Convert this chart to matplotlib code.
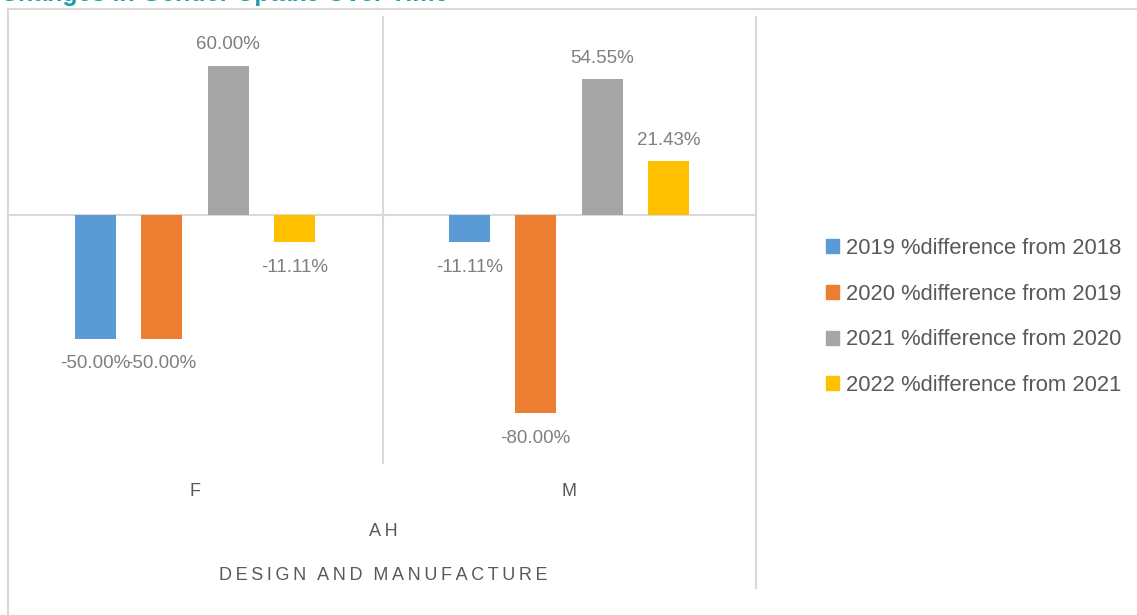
import numpy as np
import matplotlib
matplotlib.use("Agg")
import matplotlib.pyplot as plt
from matplotlib.lines import Line2D
from matplotlib.patches import Rectangle

# data
categories = ["F", "M"]
series_names = [
    "2019 %difference from 2018",
    "2020 %difference from 2019",
    "2021 %difference from 2020",
    "2022 %difference from 2021",
]
values_2019 = [-50.00, -11.11]
values_2020 = [-50.00, -80.00]
values_2021 = [60.00, 54.55]
values_2022 = [-11.11, 21.43]
colors = ["#5B9BD5", "#ED7D31", "#A5A5A5", "#FFC000"]

W, H = 1137, 615
fig = plt.figure(figsize=(W / 100, H / 100), dpi=100)
plt.rcParams["font.family"] = ["Liberation Sans", "DejaVu Sans"]


def fx(px):
    return px / W


def fy(py):
    return 1 - py / H


# plot area in pixels
left, right, top, bottom = 8, 756, 16, 463
ax = fig.add_axes([fx(left), fy(bottom), fx(right - left), fy(top) - fy(bottom)])
ax.set_xlim(-0.5, 1.5)
ax.set_ylim(-100, 80)
for s in ax.spines.values():
    s.set_visible(False)
ax.set_xticks([])
ax.set_yticks([])

all_series = [values_2019, values_2020, values_2021, values_2022]
x = np.arange(len(categories))
pitch = 0.178
width = 0.11
for i, (vals, c) in enumerate(zip(all_series, colors)):
    pos = x + (i - 1.5) * pitch
    ax.bar(pos, vals, width=width, color=c, zorder=3)
    for px_, v in zip(pos, vals):
        if v >= 0:
            ax.annotate(f"{v:.2f}%", (px_, v), xytext=(0, 9), textcoords="offset points",
                        ha="center", va="bottom", fontsize=13.5, color="#7F7F7F")
        else:
            ax.annotate(f"{v:.2f}%", (px_, v), xytext=(0, -12), textcoords="offset points",
                        ha="center", va="top", fontsize=13.5, color="#7F7F7F")

ax.axhline(0, color="#D9D9D9", lw=1.5, zorder=2)

# category axis labels
label_y = -(491 - bottom) / (bottom - top)
for xi, cat in zip(x, categories):
    ax.text(xi, label_y, cat, transform=ax.get_xaxis_transform(), ha="center", va="center",
            fontsize=13, color="#595959")

fig.text(fx(383), fy(532), "\u2009".join("AH"), ha="center", va="center",
         fontsize=13, color="#595959")
fig.text(fx(383), fy(575), "\u2009".join("DESIGN AND MANUFACTURE").replace("\u2009 \u2009", "\u2009\u2009\u2009"),
         ha="center", va="center", fontsize=13, color="#595959")

# separators and borders
line_c = "#D9D9D9"
fig.add_artist(Line2D([fx(383), fx(383)], [fy(17), fy(463)], color=line_c, lw=1.5))
fig.add_artist(Line2D([fx(756), fx(756)], [fy(17), fy(588)], color=line_c, lw=1.5))
fig.add_artist(Line2D([fx(8), fx(8)], [fy(9), 0], color=line_c, lw=1.5))
fig.add_artist(Line2D([fx(8), 1], [fy(9), fy(9)], color=line_c, lw=1.5))

# title (cropped at top, as in the source)
fig.text(fx(0), fy(-6), "Changes in Gender Uptake Over Time", ha="left", va="center",
         fontsize=18, fontweight="bold", color="#1A9EAE")

# legend
handles = [Rectangle((0, 0), 1, 1, color=c) for c in colors]
fig.legend(handles, series_names, loc="center left", bbox_to_anchor=(fx(806), fy(317)),
           frameon=False, fontsize=15.8, labelcolor="#595959", handlelength=0.6,
           handleheight=0.6, handletextpad=0.3, labelspacing=1.12)

fig.savefig("out.png", dpi=100)
